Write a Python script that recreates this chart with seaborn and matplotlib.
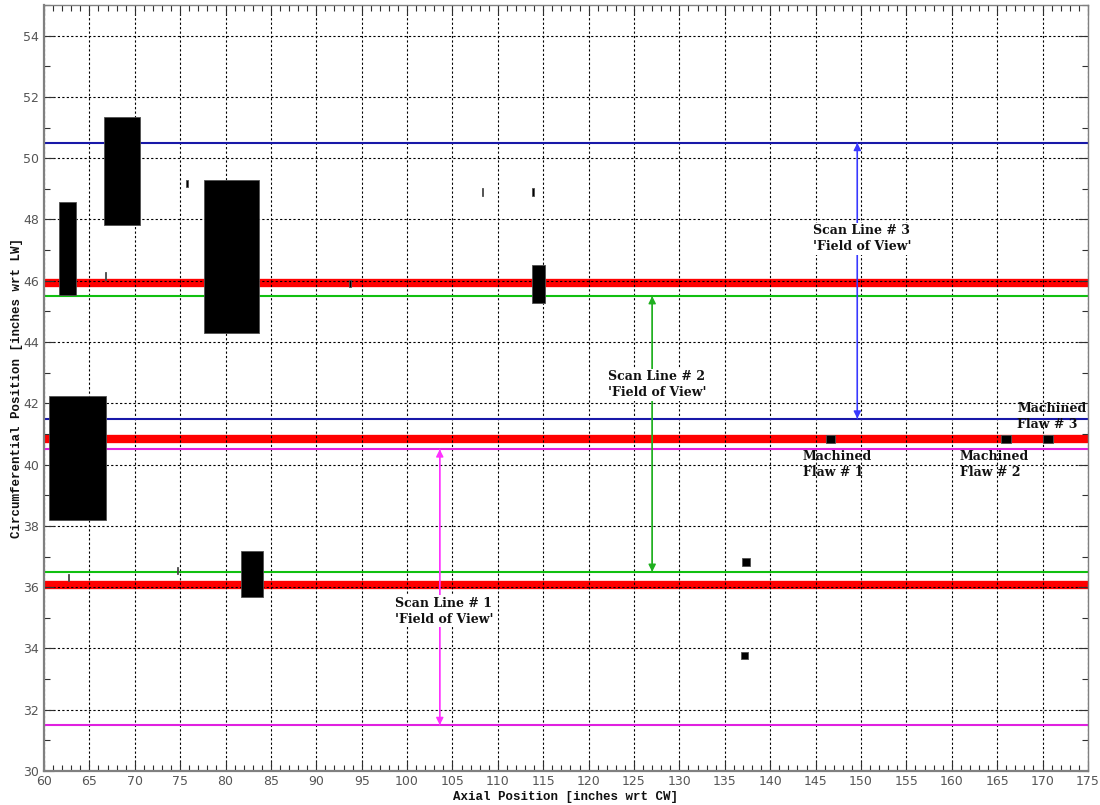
import numpy as np
import pandas as pd
import matplotlib
matplotlib.use("Agg")
import matplotlib.pyplot as plt
from matplotlib.ticker import MultipleLocator
import seaborn as sns

# Indication boxes: axial start/end and circumferential start/end (inches)
flaw_x0 = [61.65, 66.64, 66.70, 75.65, 77.60, 60.55, 62.60, 74.65, 81.66, 93.65,
           108.20, 113.80, 113.80, 136.90, 136.80, 146.10, 165.40, 170.00]
flaw_x1 = [63.56, 70.60, 66.85, 75.85, 83.64, 66.80, 62.75, 74.80, 84.12, 93.85,
           108.40, 114.00, 115.20, 137.80, 137.60, 147.10, 166.50, 171.20]
flaw_y0 = [45.54, 47.82, 46.03, 49.05, 44.30, 38.20, 36.19, 36.43, 35.68, 45.79,
           48.78, 48.78, 45.26, 36.69, 33.64, 40.72, 40.72, 40.72]
flaw_y1 = [48.58, 51.34, 46.27, 49.30, 49.30, 42.25, 36.43, 36.67, 37.17, 46.03,
           49.04, 49.04, 46.53, 36.94, 33.90, 40.97, 40.97, 40.97]

# Scan lines (circumferential centre positions) and their field-of-view limits
scan_centres = [36.06, 40.85, 45.93]
fov_lower = [31.5, 36.5, 41.5]
fov_upper = [40.5, 45.5, 50.5]
fov_arrow_x = [103.6, 127.0, 149.6]
scan_names = ["Scan Line # 1", "Scan Line # 2", "Scan Line # 3"]
scan_label_xy = [(98.7, 35.22), (122.1, 42.6), (144.7, 47.37)]

flaw_names = ["Machined\nFlaw # 1", "Machined\nFlaw # 2", "Machined\nFlaw # 3"]
flaw_label_xy = [(143.6, 40.02), (160.9, 40.02), (167.2, 41.56)]

x_range = [60, 175]

sns.set_theme(style="white")
plt.rcParams["font.family"] = ["DejaVu Sans"]

fig = plt.figure(figsize=(11, 8.05), dpi=100)
ax = fig.add_axes([0.040, 0.0422, 0.949, 0.9516])

fov_line_colors = ["#e020e0", "#10c010", "#1818a8"]
arrow_colors = ["#ff30ff", "#20b020", "#3838ff"]

# Scan line centres (thick red)
for yc in scan_centres:
    sns.lineplot(x=x_range, y=[yc, yc], ax=ax, color="#ff0000", lw=6.0,
                 zorder=1, solid_capstyle="butt")

# Field-of-view limits
for lo, hi, c in zip(fov_lower, fov_upper, fov_line_colors):
    for yv in (lo, hi):
        sns.lineplot(x=x_range, y=[yv, yv], ax=ax, color=c, lw=1.5, zorder=2)

# Indications as filled boxes
widths = np.array(flaw_x1) - np.array(flaw_x0)
heights = np.array(flaw_y1) - np.array(flaw_y0)
ax.bar(flaw_x0, heights, width=widths, bottom=flaw_y0, align="edge",
       color="black", edgecolor="#505050", linewidth=0.6, zorder=3)

# Field-of-view arrows (heads at both ends)
for xa, lo, hi, c in zip(fov_arrow_x, fov_lower, fov_upper, arrow_colors):
    for start, end in ((lo, hi), (hi, lo)):
        ax.annotate("", xy=(xa, end), xytext=(xa, start),
                    arrowprops=dict(arrowstyle="-|>", color=c, lw=1.0,
                                    mutation_scale=11, shrinkA=0, shrinkB=0),
                    zorder=4)

note_font = dict(family="DejaVu Serif", fontweight="bold", fontsize=9,
                 color="#111111", linespacing=1.3)
for name, (tx, ty) in zip(scan_names, scan_label_xy):
    ax.text(tx, ty, name + "\n'Field of View'", ha="left", va="center",
            zorder=5,
            bbox=dict(facecolor="white", edgecolor="none", pad=1.0),
            **note_font)
for name, (tx, ty) in zip(flaw_names, flaw_label_xy):
    ax.text(tx, ty, name, ha="left", va="center", zorder=5, **note_font)

ax.set_xlim(60, 175)
ax.set_ylim(30, 55)
ax.xaxis.set_major_locator(MultipleLocator(5))
ax.xaxis.set_minor_locator(MultipleLocator(1))
ax.yaxis.set_major_locator(MultipleLocator(2))
ax.yaxis.set_minor_locator(MultipleLocator(1))

ax.set_axisbelow("line")
ax.grid(True, which="major", color="black", linestyle=(0, (2.0, 2.0)),
        linewidth=0.8)

ax.tick_params(which="both", direction="in", top=True, right=True,
               bottom=True, left=True, color="#303030", labelcolor="#555555",
               labelsize=9)
ax.tick_params(which="major", length=7, width=0.8)
ax.tick_params(which="minor", length=4, width=0.8)
ax.tick_params(axis="x", pad=3)

for side in ["left", "bottom", "top", "right"]:
    ax.spines[side].set_visible(True)
    ax.spines[side].set_color("#808080")
    ax.spines[side].set_linewidth(1.6 if side in ("left", "bottom") else 1.0)

label_font = dict(family="Liberation Mono", fontweight="bold", fontsize=9,
                  color="#111111")
ax.set_xlabel("Axial Position [inches wrt CW]", labelpad=2, **label_font)
ax.set_ylabel("Circumferential Position [inches wrt LW]", labelpad=0,
              **label_font)

fig.savefig("out.png", dpi=100, facecolor="white")
